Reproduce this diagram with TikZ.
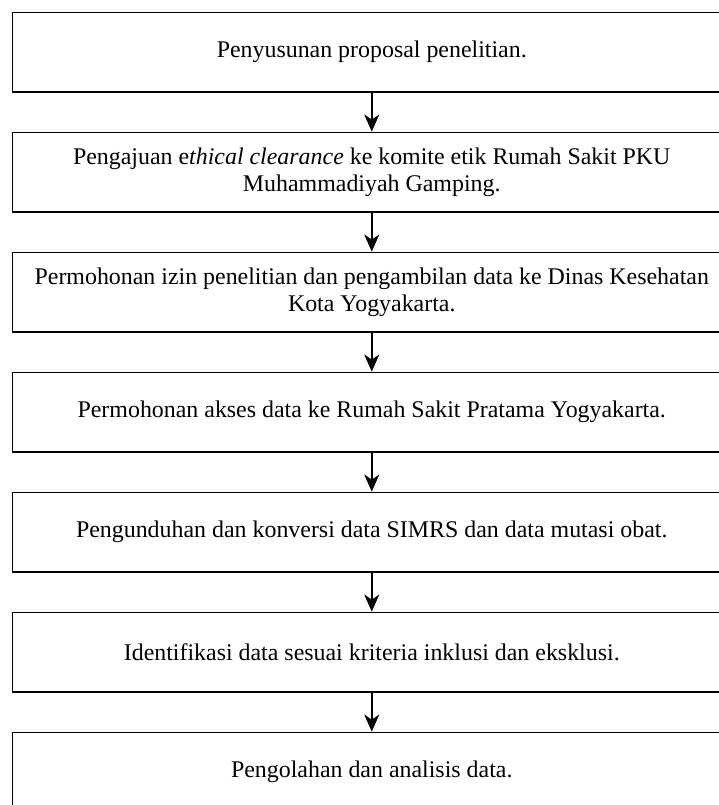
\documentclass[tikz,border=0pt]{standalone}
\usepackage{fontspec}
\setmainfont{Liberation Serif}
\usetikzlibrary{arrows.meta,positioning}
\tikzset{
    flow/.style={>={Stealth[length=17pt,width=15pt,inset=5pt]},
                 node distance=120pt,line width=1.8pt,x=1pt,y=1pt},
    stage/.style={rectangle,draw,minimum width=718.5pt,minimum height=79.5pt,
                  align=center,inner sep=0pt,font=\fontsize{23.9}{27.2}\selectfont},
    link/.style={->,line width=1.5pt},
    }

\begin{document}
\begin{tikzpicture}[flow]
            \useasboundingbox (0,0) rectangle (719,-805);
            \clip (0,0) rectangle (719,-805);
            \node[stage] (s1) at (371.75,-52.25) {Penyusunan proposal penelitian.};
            \node[stage] (s2) [below of=s1] {Pengajuan e\textit{thical clearance} ke komite etik Rumah Sakit PKU\\Muhammadiyah Gamping.};
            \node[stage] (s3) [below of=s2] {Permohonan izin penelitian dan pengambilan data ke Dinas Kesehatan\\Kota Yogyakarta.};
            \node[stage] (s4) [below of=s3] {Permohonan akses data ke Rumah Sakit Pratama Yogyakarta.};
            \node[stage] (s5) [below of=s4] {Pengunduhan dan konversi data SIMRS dan data mutasi obat.};
            \node[stage] (s6) [below of=s5] {Identifikasi data sesuai kriteria inklusi dan eksklusi.};
            \node[stage] (s7) [below of=s6] {Pengolahan dan analisis data.};

            \path[link] (s1) edge[] (s2);
            \path[link] (s2) edge[] (s3);
            \path[link] (s3) edge[] (s4);
            \path[link] (s4) edge[] (s5);
            \path[link] (s5) edge[] (s6);
            \path[link] (s6) edge[] (s7);
        \end{tikzpicture}
\end{document}
